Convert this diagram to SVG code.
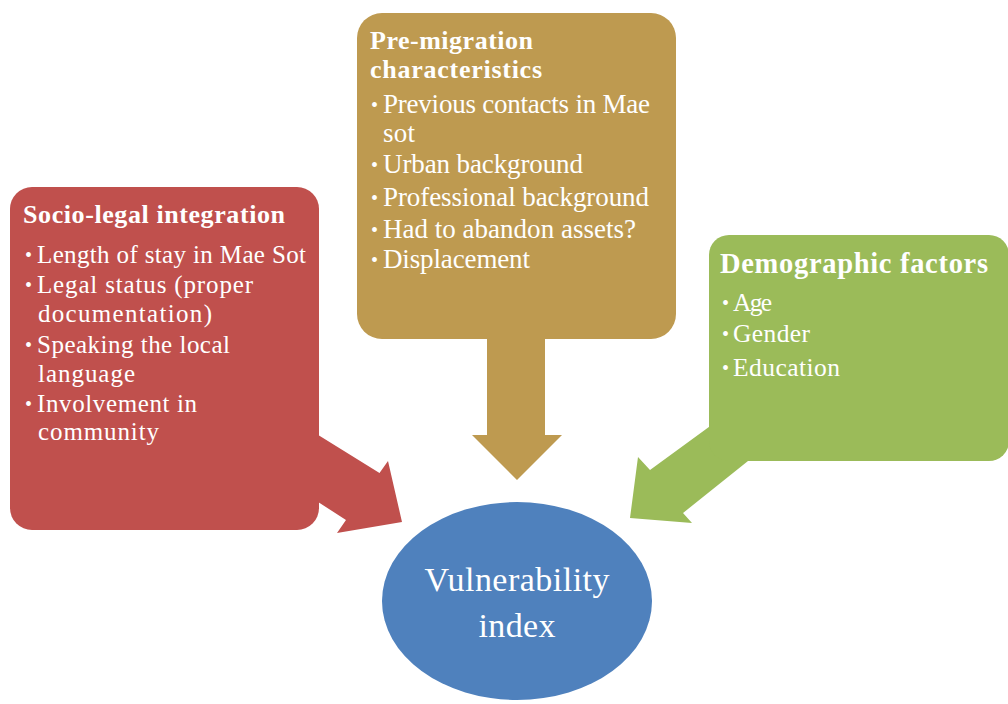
<svg xmlns="http://www.w3.org/2000/svg" width="1008" height="704" viewBox="0 0 1008 704">
<style>
text{font-family:"Liberation Serif","Times New Roman",serif;fill:#ffffff}
.t{font-weight:bold}
.r{font-size:25px}
.p{font-size:27px}
.g{font-size:25.5px}
.b{font-size:20px}
.c{font-size:34px;text-anchor:middle}
.red{fill:#c0504d}
.tan{fill:#be9a50}
.grn{fill:#9bbb59}
.blu{fill:#4f81bd}
</style>
<rect width="1008" height="704" fill="#ffffff"/>
<g id="connectors">
<polygon id="arrow-socio" class="red" points="315,433 379.5,473 388,461 402,522 337,533 346,520 315,500"/>
<polygon id="arrow-pre" class="tan" points="487,335 545,335 545,435 562,435 517,480 472,435 487,435"/>
<polygon id="arrow-demo" class="grn" points="713,424 650,470 638,457 630,518 692,523 683,513 753,457"/>
</g>
<g id="socio-legal">
<rect class="red" x="10" y="187" width="309" height="343" rx="22"/>
<text class="t" x="23" y="223" font-size="26" textLength="262" lengthAdjust="spacing">Socio-legal integration</text>
<text class="b" x="25" y="262">•</text><text class="r" x="37" y="263" textLength="269" lengthAdjust="spacing">Length of stay in Mae Sot</text>
<text class="b" x="25" y="292">•</text><text class="r" x="37" y="293" textLength="216" lengthAdjust="spacing">Legal status (proper</text>
<text class="r" x="38" y="322" textLength="174" lengthAdjust="spacing">documentation)</text>
<text class="b" x="25" y="352">•</text><text class="r" x="37" y="353" textLength="193" lengthAdjust="spacing">Speaking the local</text>
<text class="r" x="38" y="382" textLength="97" lengthAdjust="spacing">language</text>
<text class="b" x="25" y="411">•</text><text class="r" x="37" y="412" textLength="160" lengthAdjust="spacing">Involvement in</text>
<text class="r" x="38" y="440" textLength="121" lengthAdjust="spacing">community</text>
</g>
<g id="pre-migration">
<rect class="tan" x="357" y="13" width="319" height="326" rx="25"/>
<text class="t" x="370" y="49" font-size="26" textLength="163" lengthAdjust="spacing">Pre-migration</text>
<text class="t" x="370" y="78" font-size="26" textLength="172" lengthAdjust="spacing">characteristics</text>
<text class="b" x="371" y="112">•</text><text class="p" x="383" y="113" textLength="267" lengthAdjust="spacing">Previous contacts in Mae</text>
<text class="p" x="383" y="142" textLength="32" lengthAdjust="spacing">sot</text>
<text class="b" x="371" y="172">•</text><text class="p" x="383" y="173" textLength="200" lengthAdjust="spacing">Urban background</text>
<text class="b" x="371" y="205">•</text><text class="p" x="383" y="206" textLength="266" lengthAdjust="spacing">Professional background</text>
<text class="b" x="371" y="237">•</text><text class="p" x="383" y="238" textLength="253" lengthAdjust="spacing">Had to abandon assets?</text>
<text class="b" x="371" y="267">•</text><text class="p" x="383" y="268" textLength="147" lengthAdjust="spacing">Displacement</text>
</g>
<g id="demographic">
<rect class="grn" x="709" y="235" width="300" height="226" rx="20"/>
<text class="t" x="720" y="273" font-size="28.5" textLength="268" lengthAdjust="spacing">Demographic factors</text>
<text class="b" x="722" y="310">•</text><text class="g" x="733" y="311" textLength="39" lengthAdjust="spacing">Age</text>
<text class="b" x="722" y="341">•</text><text class="g" x="733" y="342" textLength="77" lengthAdjust="spacing">Gender</text>
<text class="b" x="722" y="375">•</text><text class="g" x="733" y="376" textLength="107" lengthAdjust="spacing">Education</text>
</g>
<g id="vulnerability">
<ellipse class="blu" cx="517" cy="601" rx="135" ry="99"/>
<text class="c" x="517" y="591" textLength="185" lengthAdjust="spacing">Vulnerability</text>
<text class="c" x="517" y="637" textLength="77" lengthAdjust="spacing">index</text>
</g>
</svg>
